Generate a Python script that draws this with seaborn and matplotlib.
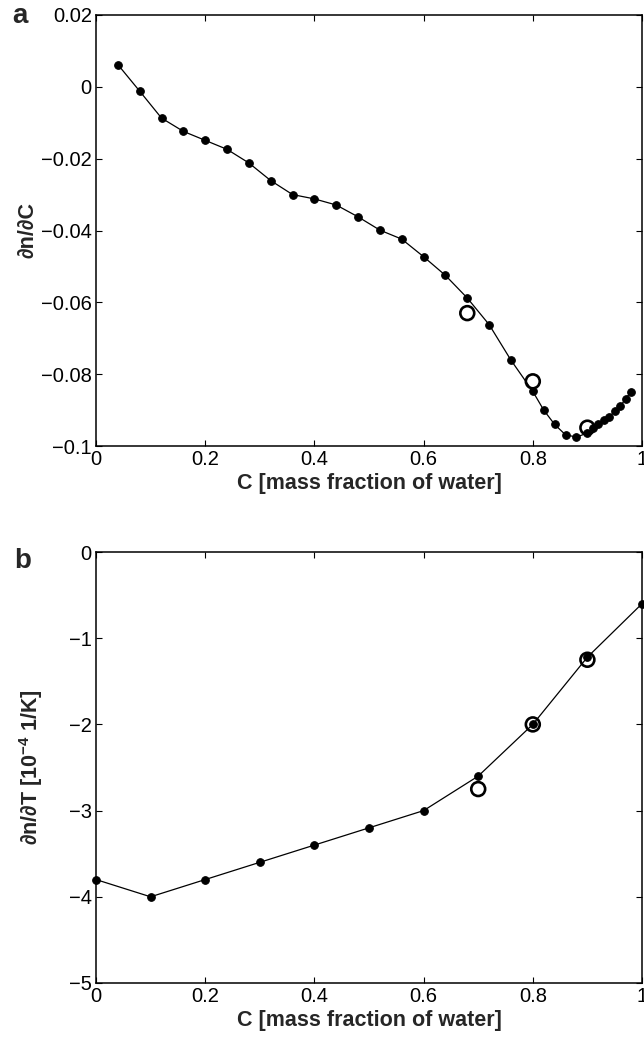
import numpy as np
import pandas as pd
import matplotlib
matplotlib.use("Agg")
import matplotlib.pyplot as plt
import seaborn as sns

# Panel a data
c_a = [0.04, 0.08, 0.12, 0.16, 0.20, 0.24, 0.28, 0.32, 0.36, 0.40, 0.44, 0.48,
       0.52, 0.56, 0.60, 0.64, 0.68, 0.72, 0.76, 0.80, 0.82, 0.84, 0.86, 0.88,
       0.90, 0.91, 0.92, 0.93, 0.94, 0.95, 0.96, 0.97, 0.98]
dndc = [0.0062, -0.0012, -0.0087, -0.0124, -0.0149, -0.0174, -0.0212, -0.0261,
        -0.0300, -0.0312, -0.0329, -0.0362, -0.0399, -0.0424, -0.0473, -0.0525,
        -0.0588, -0.0662, -0.0761, -0.0848, -0.0900, -0.0940, -0.0969, -0.0975,
        -0.0964, -0.0951, -0.0939, -0.0929, -0.0920, -0.0902, -0.0890, -0.0868,
        -0.0849]
c_a_open = [0.68, 0.80, 0.90]
dndc_open = [-0.0630, -0.0820, -0.0949]

# Panel b data
c_b = [0.0, 0.1, 0.2, 0.3, 0.4, 0.5, 0.6, 0.7, 0.8, 0.9, 1.0]
dndt = [-3.8, -4.0, -3.8, -3.6, -3.4, -3.2, -3.0, -2.6, -2.0, -1.22, -0.6]
c_b_open = [0.7, 0.8, 0.9]
dndt_open = [-2.75, -2.0, -1.25]

xticks = [0, 0.2, 0.4, 0.6, 0.8, 1]
xticklabels = ["0", "0.2", "0.4", "0.6", "0.8", "1"]
yticks_a = [-0.1, -0.08, -0.06, -0.04, -0.02, 0, 0.02]
yticklabels_a = ["\u22120.1", "\u22120.08", "\u22120.06", "\u22120.04", "\u22120.02", "0", "0.02"]
yticks_b = [-5, -4, -3, -2, -1, 0]
yticklabels_b = ["\u22125", "\u22124", "\u22123", "\u22122", "\u22121", "0"]

sns.set_style("ticks")
plt.rcParams['font.family'] = ['Liberation Sans', 'DejaVu Sans']
plt.rcParams['mathtext.fontset'] = 'custom'
plt.rcParams['mathtext.rm'] = 'Liberation Sans'
plt.rcParams['mathtext.bf'] = 'Liberation Sans:bold'

W, H = 644, 1046
fig = plt.figure(figsize=(W / 100, H / 100), dpi=100)
ax1 = fig.add_axes([96 / W, 1 - 446 / H, 546 / W, 431 / H])
ax2 = fig.add_axes([96 / W, 1 - 983 / H, 546 / W, 431 / H])

TICK_FS = 14.5
LABEL_FS = 15.5

def style(ax):
    for s in ax.spines.values():
        s.set_linewidth(1.1)
        s.set_color('k')
    ax.tick_params(direction='in', top=True, right=True, length=4, width=0.8,
                   labelsize=TICK_FS, colors='k', pad=3)

# panel a
sns.lineplot(x=c_a, y=dndc, ax=ax1, color='k', linewidth=0.9, marker='o',
             markersize=5.5, markeredgecolor='k', markerfacecolor='k')
sns.scatterplot(x=c_a_open, y=dndc_open, ax=ax1, s=100, facecolors='none',
                edgecolors='k', linewidth=1.9, zorder=5)
ax1.set_xlim(0, 1)
ax1.set_ylim(-0.1, 0.02)
ax1.set_xticks(xticks)
ax1.set_xticklabels(xticklabels)
ax1.set_yticks(yticks_a)
ax1.set_yticklabels(yticklabels_a)
ax1.set_xlabel("C [mass fraction of water]", fontsize=LABEL_FS, fontweight='bold', labelpad=3)
ax1.set_ylabel("\u2202n/\u2202C", fontsize=LABEL_FS, fontweight='bold', labelpad=2)
style(ax1)

# panel b
sns.lineplot(x=c_b, y=dndt, ax=ax2, color='k', linewidth=0.9, marker='o',
             markersize=5.5, markeredgecolor='k', markerfacecolor='k', clip_on=False)
sns.scatterplot(x=c_b_open, y=dndt_open, ax=ax2, s=100, facecolors='none',
                edgecolors='k', linewidth=1.9, zorder=5)
ax2.set_xlim(0, 1)
ax2.set_ylim(-5, 0)
ax2.set_xticks(xticks)
ax2.set_xticklabels(xticklabels)
ax2.set_yticks(yticks_b)
ax2.set_yticklabels(yticklabels_b)
ax2.set_xlabel("C [mass fraction of water]", fontsize=LABEL_FS, fontweight='bold', labelpad=3)
ax2.set_ylabel("\u2202n/\u2202T [10$^{\\mathbf{\u22124}}$ 1/K]", fontsize=LABEL_FS,
               fontweight='bold', labelpad=17)
style(ax2)

fig.text(12 / W, 1 - 23 / H, "a", fontsize=20, fontweight='bold', va='baseline', ha='left')
fig.text(14 / W, 1 - 568 / H, "b", fontsize=20, fontweight='bold', va='baseline', ha='left')

fig.savefig("out.png", dpi=100, facecolor='white')
